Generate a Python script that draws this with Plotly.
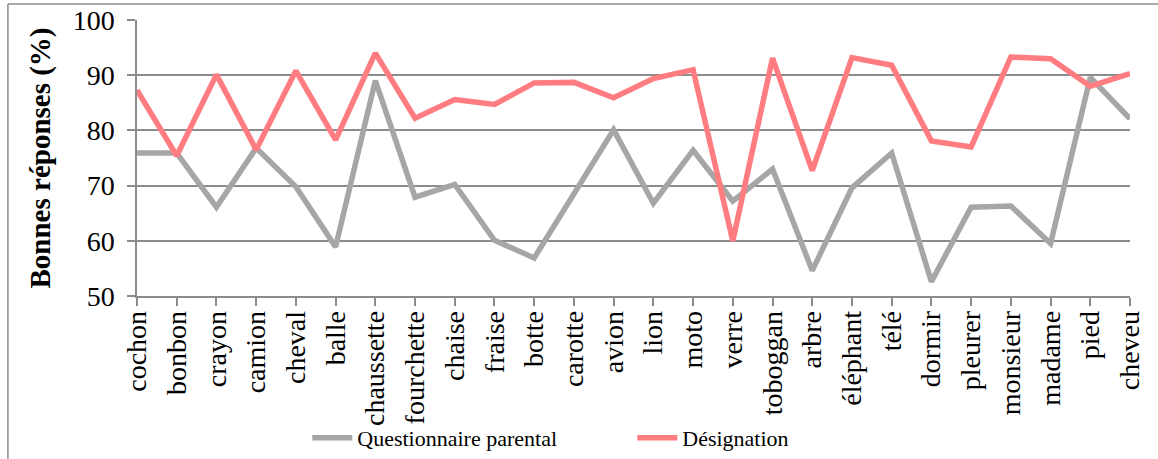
import plotly.graph_objects as go

categories = ["cochon", "bonbon", "crayon", "camion", "cheval", "balle", "chaussette",
              "fourchette", "chaise", "fraise", "botte", "carotte", "avion", "lion",
              "moto", "verre", "toboggan", "arbre", "éléphant", "télé", "dormir",
              "pleurer", "monsieur", "madame", "pied", "cheveu"]

questionnaire_parental = [75.9, 75.9, 66.1, 76.8, 69.8, 58.9, 89.0, 67.9, 70.2, 60.1,
                          56.9, 68.3, 80.1, 66.8, 76.4, 67.2, 73.0, 54.6, 69.6, 75.9,
                          52.6, 66.1, 66.3, 59.5, 89.6, 82.1]

designation = [87.3, 75.4, 90.1, 76.5, 90.8, 78.3, 94.0, 82.2, 85.6, 84.7,
               88.6, 88.7, 85.9, 89.4, 91.0, 60.0, 93.1, 72.7, 93.2, 91.8,
               78.1, 77.0, 93.3, 93.0, 88.0, 90.3]

y_ticks = [50, 60, 70, 80, 90, 100]

FONT = "Liberation Serif"
GRID = "#8c8c8c"

fig = go.Figure()
fig.add_trace(go.Scatter(x=categories, y=questionnaire_parental, mode="lines",
                         name="Questionnaire parental",
                         line=dict(color="#a6a6a6", width=5.5)))
fig.add_trace(go.Scatter(x=categories, y=designation, mode="lines",
                         name="Désignation",
                         line=dict(color="#ff7c80", width=5.5)))

fig.update_layout(
    width=1158, height=459,
    margin=dict(l=137, r=28, t=20, b=163, pad=0, autoexpand=False),
    paper_bgcolor="white", plot_bgcolor="white",
    font=dict(family=FONT, color="black"),
    showlegend=True,
    legend=dict(orientation="h", xref="container", yref="container",
                x=0.546, xanchor="center", y=0.046, yanchor="middle",
                font=dict(size=22, family=FONT), bgcolor="rgba(0,0,0,0)",
                entrywidth=270, itemwidth=40),
    xaxis=dict(type="category", range=[0, 25], showgrid=False, automargin=False,
               showline=True, linecolor=GRID, linewidth=1.5,
               ticks="outside", ticklen=8, tickcolor=GRID, tickwidth=1.5,
               ticklabelstandoff=-6,
               tickangle=-90, tickfont=dict(size=28, family=FONT)),
    yaxis=dict(range=[50, 100], tickvals=y_ticks, showgrid=True, gridcolor=GRID,
               automargin=False, ticklabelstandoff=7,
               gridwidth=1.5, showline=True, linecolor=GRID, linewidth=1.5,
               ticks="outside", ticklen=8, tickcolor=GRID, tickwidth=1.5,
               tickfont=dict(size=28, family=FONT), zeroline=False,
               title=dict(text="<b>Bonnes réponses (%)</b>", standoff=14,
                          font=dict(size=29, family=FONT))),
    shapes=[
        dict(type="line", xref="paper", yref="paper", x0=-0.13, x1=1.03,
             y0=1.058, y1=1.058, line=dict(color="#8c8c8c", width=1.5)),
        dict(type="line", xref="paper", yref="paper", x0=-0.13, x1=-0.13,
             y0=1.058, y1=-0.6, line=dict(color="#8c8c8c", width=1.5)),
    ],
)

fig.write_html("out.html", config={"displayModeBar": False},
               post_script="document.body.style.margin='0';")
